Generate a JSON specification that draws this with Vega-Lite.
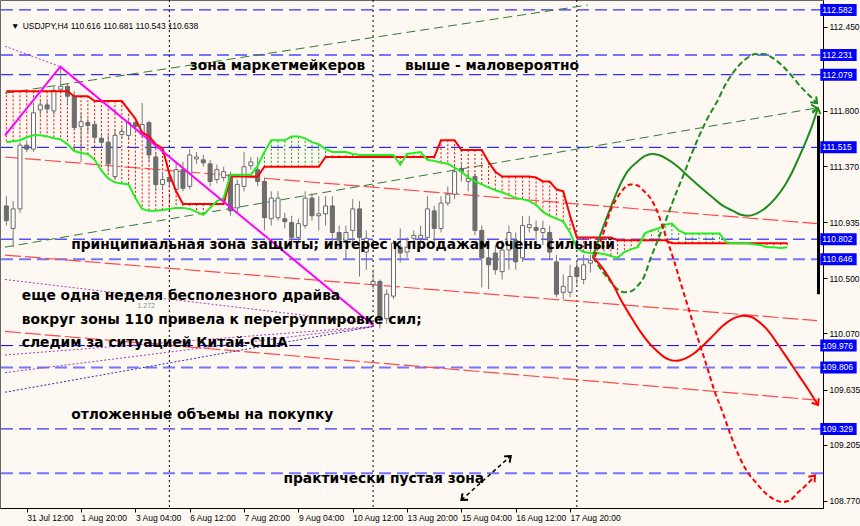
{
  "$schema": "https://vega.github.io/schema/vega-lite/v6.json",
  "width": 823,
  "height": 508,
  "autosize": "none",
  "padding": {"left": 0, "top": 0, "right": 37, "bottom": 18},
  "background": "#fdf8f2",
  "config": {
    "view": {"stroke": "#666", "strokeWidth": 1, "fill": "#fdf8f2"},
    "axis": {"grid": false}
  },
  "datasets": {
    "candles": [
      {"i":-3,"o":111.060,"h":111.136,"l":110.908,"c":110.946},
      {"i":-2,"o":110.885,"h":111.098,"l":110.740,"c":111.037},
      {"i":-1,"o":111.037,"h":111.555,"l":111.007,"c":111.532},
      {"i":0,"o":111.532,"h":111.570,"l":111.479,"c":111.501},
      {"i":1,"o":111.501,"h":111.836,"l":111.479,"c":111.783},
      {"i":2,"o":111.806,"h":111.874,"l":111.768,"c":111.844},
      {"i":3,"o":111.844,"h":111.874,"l":111.783,"c":111.813},
      {"i":4,"o":111.798,"h":111.988,"l":111.768,"c":111.958},
      {"i":5,"o":111.966,"h":112.141,"l":111.935,"c":111.988},
      {"i":6,"o":111.988,"h":112.011,"l":111.859,"c":111.912},
      {"i":7,"o":111.912,"h":111.950,"l":111.646,"c":111.669},
      {"i":8,"o":111.676,"h":111.783,"l":111.402,"c":111.714},
      {"i":9,"o":111.707,"h":111.737,"l":111.631,"c":111.684},
      {"i":10,"o":111.692,"h":111.722,"l":111.555,"c":111.593},
      {"i":11,"o":111.585,"h":111.615,"l":111.517,"c":111.555},
      {"i":12,"o":111.555,"h":111.608,"l":111.326,"c":111.387},
      {"i":13,"o":111.288,"h":111.646,"l":111.265,"c":111.608},
      {"i":14,"o":111.615,"h":111.669,"l":111.585,"c":111.638},
      {"i":15,"o":111.608,"h":111.745,"l":111.585,"c":111.707},
      {"i":16,"o":111.707,"h":111.745,"l":111.646,"c":111.676},
      {"i":17,"o":111.615,"h":111.859,"l":111.593,"c":111.692},
      {"i":18,"o":111.707,"h":111.722,"l":111.402,"c":111.456},
      {"i":19,"o":111.440,"h":111.479,"l":111.174,"c":111.227},
      {"i":20,"o":111.227,"h":111.326,"l":111.189,"c":111.265},
      {"i":21,"o":111.281,"h":111.326,"l":111.212,"c":111.250},
      {"i":22,"o":111.189,"h":111.402,"l":111.159,"c":111.342},
      {"i":23,"o":111.342,"h":111.402,"l":111.174,"c":111.197},
      {"i":24,"o":111.212,"h":111.501,"l":111.189,"c":111.456},
      {"i":25,"o":111.425,"h":111.479,"l":111.387,"c":111.440},
      {"i":26,"o":111.418,"h":111.456,"l":111.364,"c":111.395},
      {"i":27,"o":111.387,"h":111.418,"l":111.212,"c":111.250},
      {"i":28,"o":111.265,"h":111.380,"l":111.235,"c":111.342},
      {"i":29,"o":111.281,"h":111.364,"l":111.250,"c":111.326},
      {"i":30,"o":111.303,"h":111.326,"l":110.984,"c":111.022},
      {"i":31,"o":111.045,"h":111.265,"l":111.007,"c":111.227},
      {"i":32,"o":111.212,"h":111.479,"l":111.174,"c":111.364},
      {"i":33,"o":111.372,"h":111.440,"l":111.342,"c":111.402},
      {"i":34,"o":111.342,"h":111.440,"l":111.212,"c":111.250},
      {"i":35,"o":111.250,"h":111.281,"l":110.870,"c":110.969},
      {"i":36,"o":110.961,"h":111.174,"l":110.908,"c":111.121},
      {"i":37,"o":110.969,"h":111.174,"l":110.946,"c":111.121},
      {"i":38,"o":110.961,"h":111.007,"l":110.885,"c":110.938},
      {"i":39,"o":110.931,"h":110.984,"l":110.756,"c":110.816},
      {"i":40,"o":110.816,"h":110.961,"l":110.778,"c":110.923},
      {"i":41,"o":110.908,"h":111.174,"l":110.885,"c":111.121},
      {"i":42,"o":111.121,"h":111.159,"l":110.946,"c":110.984},
      {"i":43,"o":110.984,"h":111.136,"l":110.870,"c":110.999},
      {"i":44,"o":110.999,"h":111.136,"l":110.908,"c":111.060},
      {"i":45,"o":111.060,"h":111.136,"l":110.756,"c":110.854},
      {"i":46,"o":110.854,"h":110.908,"l":110.718,"c":110.794},
      {"i":47,"o":110.794,"h":110.908,"l":110.641,"c":110.854},
      {"i":48,"o":110.870,"h":111.113,"l":110.756,"c":111.037},
      {"i":49,"o":111.037,"h":111.098,"l":110.512,"c":110.816},
      {"i":50,"o":110.702,"h":110.870,"l":110.565,"c":110.809},
      {"i":51,"o":110.451,"h":110.565,"l":110.413,"c":110.474},
      {"i":52,"o":110.474,"h":110.489,"l":110.109,"c":110.185},
      {"i":53,"o":110.185,"h":110.413,"l":110.147,"c":110.375},
      {"i":54,"o":110.360,"h":110.794,"l":110.337,"c":110.771},
      {"i":55,"o":110.740,"h":110.885,"l":110.619,"c":110.695},
      {"i":56,"o":110.702,"h":110.816,"l":110.657,"c":110.740},
      {"i":57,"o":110.809,"h":110.870,"l":110.756,"c":110.832},
      {"i":58,"o":110.809,"h":110.908,"l":110.733,"c":110.832},
      {"i":59,"o":110.816,"h":111.136,"l":110.794,"c":111.037},
      {"i":60,"o":111.022,"h":111.060,"l":110.756,"c":110.885},
      {"i":61,"o":110.885,"h":111.136,"l":110.854,"c":111.083},
      {"i":62,"o":111.083,"h":111.212,"l":111.060,"c":111.151},
      {"i":63,"o":111.151,"h":111.364,"l":111.113,"c":111.326},
      {"i":64,"o":111.349,"h":111.402,"l":111.250,"c":111.326},
      {"i":65,"o":111.250,"h":111.326,"l":111.174,"c":111.273},
      {"i":66,"o":111.288,"h":111.311,"l":110.832,"c":110.870},
      {"i":67,"o":110.870,"h":110.908,"l":110.428,"c":110.657},
      {"i":68,"o":110.657,"h":110.794,"l":110.413,"c":110.603},
      {"i":69,"o":110.695,"h":110.756,"l":110.527,"c":110.565},
      {"i":70,"o":110.550,"h":110.794,"l":110.489,"c":110.718},
      {"i":71,"o":110.718,"h":110.908,"l":110.565,"c":110.854},
      {"i":72,"o":110.794,"h":110.854,"l":110.565,"c":110.626},
      {"i":73,"o":110.657,"h":110.984,"l":110.626,"c":110.908},
      {"i":74,"o":110.892,"h":110.984,"l":110.854,"c":110.915},
      {"i":75,"o":110.892,"h":110.946,"l":110.794,"c":110.870},
      {"i":76,"o":110.854,"h":110.946,"l":110.756,"c":110.885},
      {"i":77,"o":110.854,"h":110.908,"l":110.641,"c":110.702},
      {"i":78,"o":110.626,"h":110.679,"l":110.352,"c":110.375},
      {"i":79,"o":110.390,"h":110.527,"l":110.337,"c":110.436},
      {"i":80,"o":110.390,"h":110.603,"l":110.352,"c":110.512},
      {"i":81,"o":110.581,"h":110.641,"l":110.451,"c":110.512},
      {"i":82,"o":110.489,"h":110.679,"l":110.451,"c":110.603},
      {"i":83,"o":110.616,"h":110.681,"l":110.543,"c":110.638}
    ],
    "cloud": [
      {"i":-3,"a":111.950,"b":111.555},{"i":-2,"a":111.950,"b":111.562},{"i":-1,"a":111.950,"b":111.570},
      {"i":0,"a":111.950,"b":111.593},{"i":1,"a":111.950,"b":111.608},{"i":2,"a":111.950,"b":111.608},
      {"i":3,"a":111.950,"b":111.600},{"i":4,"a":111.950,"b":111.585},{"i":5,"a":111.950,"b":111.577},
      {"i":6,"a":111.950,"b":111.539},{"i":7,"a":111.912,"b":111.486},{"i":8,"a":111.912,"b":111.471},
      {"i":9,"a":111.912,"b":111.463},{"i":10,"a":111.874,"b":111.418},{"i":11,"a":111.874,"b":111.334},
      {"i":12,"a":111.874,"b":111.273},{"i":13,"a":111.874,"b":111.243},{"i":14,"a":111.874,"b":111.235},
      {"i":15,"a":111.806,"b":111.227},{"i":16,"a":111.737,"b":111.121},{"i":17,"a":111.631,"b":111.037},
      {"i":18,"a":111.600,"b":111.022},{"i":19,"a":111.539,"b":111.022},{"i":20,"a":111.509,"b":111.029},
      {"i":21,"a":111.311,"b":111.037},{"i":22,"a":111.174,"b":111.045},{"i":23,"a":111.075,"b":111.045},
      {"i":24,"a":111.075,"b":111.037},{"i":25,"a":111.075,"b":111.014},{"i":26,"a":111.075,"b":110.991},
      {"i":27,"a":111.075,"b":111.045},{"i":28,"a":111.075,"b":111.098},{"i":29,"a":111.075,"b":111.121},
      {"i":30,"a":111.288,"b":111.303},{"i":31,"a":111.288,"b":111.303},{"i":32,"a":111.288,"b":111.303},
      {"i":33,"a":111.288,"b":111.303},{"i":34,"a":111.288,"b":111.372},{"i":35,"a":111.364,"b":111.479},
      {"i":36,"a":111.364,"b":111.570},{"i":37,"a":111.364,"b":111.570},{"i":38,"a":111.364,"b":111.570},
      {"i":39,"a":111.364,"b":111.600},{"i":40,"a":111.364,"b":111.600},{"i":41,"a":111.364,"b":111.585},
      {"i":42,"a":111.364,"b":111.555},{"i":43,"a":111.364,"b":111.539},{"i":44,"a":111.440,"b":111.501},
      {"i":45,"a":111.440,"b":111.479},{"i":46,"a":111.440,"b":111.479},{"i":47,"a":111.440,"b":111.479},
      {"i":48,"a":111.440,"b":111.463},{"i":49,"a":111.440,"b":111.456},{"i":50,"a":111.440,"b":111.456},
      {"i":51,"a":111.440,"b":111.456},{"i":52,"a":111.440,"b":111.456},{"i":53,"a":111.440,"b":111.456},
      {"i":54,"a":111.440,"b":111.456},{"i":55,"a":111.440,"b":111.380},{"i":56,"a":111.440,"b":111.463},
      {"i":57,"a":111.440,"b":111.471},{"i":58,"a":111.440,"b":111.479},{"i":59,"a":111.440,"b":111.418},
      {"i":60,"a":111.440,"b":111.410},{"i":61,"a":111.570,"b":111.395},{"i":62,"a":111.570,"b":111.387},
      {"i":63,"a":111.570,"b":111.357},{"i":64,"a":111.494,"b":111.326},{"i":65,"a":111.494,"b":111.281},
      {"i":66,"a":111.494,"b":111.250},{"i":67,"a":111.494,"b":111.227},{"i":68,"a":111.402,"b":111.204},
      {"i":69,"a":111.326,"b":111.182},{"i":70,"a":111.288,"b":111.166},{"i":71,"a":111.288,"b":111.144},
      {"i":72,"a":111.288,"b":111.121},{"i":73,"a":111.288,"b":111.113},{"i":74,"a":111.288,"b":111.098},
      {"i":75,"a":111.281,"b":111.068},{"i":76,"a":111.250,"b":111.014},{"i":77,"a":111.250,"b":110.984},
      {"i":78,"a":111.189,"b":110.961},{"i":79,"a":111.174,"b":110.938},{"i":80,"a":110.984,"b":110.854},
      {"i":81,"a":110.816,"b":110.733},{"i":82,"a":110.816,"b":110.702},{"i":83,"a":110.816,"b":110.695},
      {"i":84,"a":110.816,"b":110.695},{"i":85,"a":110.816,"b":110.687},{"i":86,"a":110.816,"b":110.672},
      {"i":87,"a":110.794,"b":110.657},{"i":88,"a":110.794,"b":110.702},{"i":89,"a":110.794,"b":110.725},
      {"i":90,"a":110.794,"b":110.740},{"i":91,"a":110.794,"b":110.847},{"i":92,"a":110.794,"b":110.870},
      {"i":93,"a":110.794,"b":110.885},{"i":94,"a":110.794,"b":110.915},{"i":95,"a":110.771,"b":110.923},
      {"i":96,"a":110.771,"b":110.870},{"i":97,"a":110.771,"b":110.847},{"i":98,"a":110.771,"b":110.847},
      {"i":99,"a":110.771,"b":110.847},{"i":100,"a":110.771,"b":110.847},{"i":101,"a":110.771,"b":110.847},
      {"i":102,"a":110.771,"b":110.847},{"i":103,"a":110.771,"b":110.778},{"i":104,"a":110.771,"b":110.771},
      {"i":105,"a":110.771,"b":110.771},{"i":106,"a":110.771,"b":110.771},{"i":107,"a":110.771,"b":110.763},
      {"i":108,"a":110.771,"b":110.756},{"i":109,"a":110.771,"b":110.740},{"i":110,"a":110.771,"b":110.740},
      {"i":111,"a":110.771,"b":110.733},{"i":112,"a":110.771,"b":110.740}
    ],
    "levelsMain": [{"p":112.582},{"p":112.079},{"p":111.515},{"p":110.802},{"p":109.976},{"p":109.329}],
    "levelsSoft": [{"p":112.231},{"p":110.646},{"p":109.806},{"p":108.985}],
    "priceTags": [{"p":112.582},{"p":112.231},{"p":112.079},{"p":111.515},{"p":110.802},{"p":110.646},{"p":109.976},{"p":109.806},{"p":109.329}],
    "seps": [{"i":21},{"i":51},{"i":81}],
    "lines": [
      {"id":"R1","i":-3.2,"p":111.440},{"id":"R1","i":116.36,"p":110.923},
      {"id":"R2","i":-3.2,"p":110.679},{"id":"R2","i":116.36,"p":110.170},
      {"id":"R3","i":-3.2,"p":110.086},{"id":"R3","i":116.36,"p":109.553},
      {"id":"G1","i":-3.2,"p":111.935},{"id":"G1","i":82.62,"p":112.620},
      {"id":"G2","i":-3.2,"p":110.740},{"id":"G2","i":116.36,"p":111.821},
      {"id":"M","i":-3.2,"p":111.608},{"id":"M","i":4.95,"p":112.141},{"id":"M","i":51.05,"p":110.132},
      {"id":"MD","i":-3.2,"p":112.300},{"id":"MD","i":4.95,"p":112.141},
      {"id":"P1","i":-3.2,"p":110.489},{"id":"P1","i":51.05,"p":110.147},
      {"id":"P2","i":-3.2,"p":109.903},{"id":"P2","i":51.05,"p":110.124},
      {"id":"P3","i":-3.2,"p":109.766},{"id":"P3","i":51.05,"p":110.124},
      {"id":"P4","i":-3.2,"p":109.614},{"id":"P4","i":51.05,"p":110.124},
      {"id":"BK","i":64.0,"p":108.777},{"id":"BK","i":71.27,"p":109.119}
    ],
    "fc": [
      {"id":"gsol","i":83.35,"p":110.664},{"id":"gsol","i":84.80,"p":110.885},{"id":"gsol","i":85.96,"p":111.045},
      {"id":"gsol","i":87.27,"p":111.212},{"id":"gsol","i":88.44,"p":111.326},{"id":"gsol","i":89.89,"p":111.402},
      {"id":"gsol","i":91.05,"p":111.448},{"id":"gsol","i":92.07,"p":111.463},{"id":"gsol","i":93.09,"p":111.456},
      {"id":"gsol","i":94.25,"p":111.425},{"id":"gsol","i":95.71,"p":111.372},{"id":"gsol","i":97.16,"p":111.303},
      {"id":"gsol","i":99.05,"p":111.212},{"id":"gsol","i":101.09,"p":111.121},{"id":"gsol","i":102.55,"p":111.060},
      {"id":"gsol","i":104.0,"p":111.022},{"id":"gsol","i":105.16,"p":110.991},{"id":"gsol","i":106.18,"p":110.984},
      {"id":"gsol","i":107.35,"p":110.999},{"id":"gsol","i":108.80,"p":111.045},{"id":"gsol","i":110.25,"p":111.121},
      {"id":"gsol","i":111.71,"p":111.227},{"id":"gsol","i":112.73,"p":111.326},{"id":"gsol","i":113.6,"p":111.425},
      {"id":"gsol","i":114.62,"p":111.547},{"id":"gsol","i":115.64,"p":111.684},{"id":"gsol","i":116.51,"p":111.821},
      {"id":"gdash","i":83.35,"p":110.664},{"id":"gdash","i":84.80,"p":110.550},{"id":"gdash","i":85.96,"p":110.474},
      {"id":"gdash","i":86.98,"p":110.413},{"id":"gdash","i":88.0,"p":110.390},{"id":"gdash","i":89.02,"p":110.398},
      {"id":"gdash","i":89.89,"p":110.436},{"id":"gdash","i":90.91,"p":110.512},{"id":"gdash","i":91.78,"p":110.641},
      {"id":"gdash","i":92.8,"p":110.778},{"id":"gdash","i":94.25,"p":110.969},{"id":"gdash","i":95.71,"p":111.174},
      {"id":"gdash","i":96.73,"p":111.303},{"id":"gdash","i":97.89,"p":111.463},{"id":"gdash","i":99.05,"p":111.608},
      {"id":"gdash","i":100.36,"p":111.752},{"id":"gdash","i":101.53,"p":111.859},{"id":"gdash","i":102.98,"p":112.011},
      {"id":"gdash","i":104.44,"p":112.125},{"id":"gdash","i":105.89,"p":112.201},{"id":"gdash","i":107.35,"p":112.240},
      {"id":"gdash","i":108.51,"p":112.240},{"id":"gdash","i":109.82,"p":112.209},{"id":"gdash","i":111.27,"p":112.148},
      {"id":"gdash","i":112.73,"p":112.064},{"id":"gdash","i":114.18,"p":111.973},{"id":"gdash","i":115.35,"p":111.912},
      {"id":"gdash","i":116.36,"p":111.859},
      {"id":"rsol","i":83.35,"p":110.664},{"id":"rsol","i":84.51,"p":110.596},{"id":"rsol","i":85.53,"p":110.520},
      {"id":"rsol","i":86.55,"p":110.428},{"id":"rsol","i":87.42,"p":110.337},{"id":"rsol","i":88.87,"p":110.208},
      {"id":"rsol","i":90.33,"p":110.086},{"id":"rsol","i":91.64,"p":109.995},{"id":"rsol","i":92.8,"p":109.934},
      {"id":"rsol","i":93.82,"p":109.888},{"id":"rsol","i":94.69,"p":109.865},{"id":"rsol","i":95.71,"p":109.858},
      {"id":"rsol","i":97.16,"p":109.880},{"id":"rsol","i":98.33,"p":109.918},{"id":"rsol","i":99.64,"p":109.979},
      {"id":"rsol","i":101.09,"p":110.055},{"id":"rsol","i":102.55,"p":110.132},{"id":"rsol","i":104.0,"p":110.185},
      {"id":"rsol","i":105.45,"p":110.208},{"id":"rsol","i":106.62,"p":110.200},{"id":"rsol","i":107.78,"p":110.162},
      {"id":"rsol","i":109.24,"p":110.086},{"id":"rsol","i":110.69,"p":109.979},{"id":"rsol","i":112.15,"p":109.865},
      {"id":"rsol","i":113.6,"p":109.751},{"id":"rsol","i":115.05,"p":109.637},{"id":"rsol","i":116.51,"p":109.515},
      {"id":"rdash","i":83.64,"p":110.664},{"id":"rdash","i":84.80,"p":110.832},{"id":"rdash","i":85.96,"p":111.022},
      {"id":"rdash","i":87.27,"p":111.151},{"id":"rdash","i":88.87,"p":111.227},{"id":"rdash","i":89.89,"p":111.220},
      {"id":"rdash","i":90.91,"p":111.174},{"id":"rdash","i":91.93,"p":111.113},{"id":"rdash","i":92.8,"p":111.022},
      {"id":"rdash","i":93.96,"p":110.847},{"id":"rdash","i":95.27,"p":110.641},{"id":"rdash","i":96.44,"p":110.436},
      {"id":"rdash","i":97.6,"p":110.238},{"id":"rdash","i":98.91,"p":110.017},{"id":"rdash","i":100.07,"p":109.827},
      {"id":"rdash","i":101.24,"p":109.629},{"id":"rdash","i":102.55,"p":109.447},{"id":"rdash","i":103.71,"p":109.272},
      {"id":"rdash","i":104.87,"p":109.119},{"id":"rdash","i":106.18,"p":108.990},{"id":"rdash","i":107.35,"p":108.914},
      {"id":"rdash","i":108.8,"p":108.830},{"id":"rdash","i":110.25,"p":108.777},{"id":"rdash","i":111.27,"p":108.762},
      {"id":"rdash","i":112.44,"p":108.777},{"id":"rdash","i":113.6,"p":108.838},{"id":"rdash","i":114.91,"p":108.899},
      {"id":"rdash","i":116.07,"p":108.967}
    ],
    "heads": [
      {"g":"green","i":116.51,"p":111.821,"a":18},
      {"g":"green","i":116.36,"p":111.859,"a":135},
      {"g":"green","i":116.36,"p":111.821,"a":80},
      {"g":"red","i":116.51,"p":109.515,"a":148},
      {"g":"red","i":116.07,"p":108.967,"a":42},
      {"g":"black","i":71.27,"p":109.119,"a":48},
      {"g":"black","i":64.0,"p":108.777,"a":228}
    ],
    "notes": [
      {"t":"зона маркетмейкеров","i":24.0,"p":112.148},
      {"t":"выше - маловероятно","i":55.7,"p":112.148},
      {"t":"принципиальная зона защиты; интерес к продажам очень сильный","i":6.55,"p":110.756},
      {"t":"еще одна неделя бесполезного драйва","i":-0.73,"p":110.360},
      {"t":"вокруг зоны 110 привела к перегруппировке сил;","i":-0.73,"p":110.177},
      {"t":"следим за ситуацией Китай-США","i":-0.73,"p":109.995},
      {"t":"отложенные объемы на покупку","i":6.55,"p":109.439},
      {"t":"практически пустая зона","i":37.8,"p":108.937}
    ]
  },
  "layer": [
    {
      "data": {"name": "candles"},
      "mark": {"type": "rule", "color": "#7a7a7a", "strokeWidth": 1, "opacity": 0},
      "encoding": {
        "x": {
          "field": "i", "type": "quantitative", "title": null,
          "scale": {"domain": [-3.2, 116.51], "nice": false, "zero": false},
          "axis": {
            "orient": "bottom", "title": null, "grid": false,
            "values": [-8, 0, 8, 16, 24, 32, 40, 48, 56, 64, 72, 80],
            "labelExpr": "['30 Jul 04:00','31 Jul 12:00','1 Aug 20:00','3 Aug 04:00','6 Aug 12:00','7 Aug 20:00','9 Aug 04:00','10 Aug 12:00','13 Aug 20:00','15 Aug 04:00','16 Aug 12:00','17 Aug 20:00'][round((datum.value + 8) / 8)]",
            "labelAlign": "left", "labelFlush": false, "labelOverlap": false, "labelBound": false,
            "labelFont": "Liberation Sans", "labelFontSize": 8.5, "labelColor": "#000000", "labelPadding": 1,
            "domainColor": "#000000", "tickColor": "#000000", "tickSize": 4
          }
        },
        "y": {
          "field": "l", "type": "quantitative", "title": null,
          "scale": {"domain": [108.754, 112.62], "nice": false, "zero": false},
          "axis": {
            "orient": "right", "title": null, "grid": false,
            "values": [112.45, 112.015, 111.8, 111.585, 111.37, 111.15, 110.935, 110.72, 110.5, 110.285, 110.07, 109.855, 109.635, 109.42, 109.205, 108.985, 108.77],
            "format": ".3f", "labelOverlap": false, "labelFlush": false, "labelBound": false,
            "labelFont": "Liberation Sans", "labelFontSize": 8.5, "labelColor": "#000000", "labelPadding": 2,
            "domainColor": "#000000", "tickColor": "#000000", "tickSize": 4
          }
        },
        "y2": {"field": "h"}
      }
    },
    {
      "data": {"name": "levelsSoft"},
      "mark": {"type": "rule", "color": "#7474ff", "strokeWidth": 2, "strokeDash": [12, 6]},
      "encoding": {"y": {"field": "p", "type": "quantitative", "title": null}}
    },
    {
      "data": {"name": "levelsMain"},
      "mark": {"type": "rule", "color": "#0000ff", "strokeWidth": 1, "strokeDash": [12, 6]},
      "encoding": {"y": {"field": "p", "type": "quantitative", "title": null}}
    },
    {
      "data": {"name": "seps"},
      "mark": {"type": "rule", "color": "#000000", "strokeWidth": 1, "strokeDash": [2, 3]},
      "encoding": {"x": {"field": "i", "type": "quantitative", "title": null}}
    },
    {
      "data": {"name": "lines"},
      "transform": [{"filter": {"field": "id", "oneOf": ["R1", "R2", "R3"]}}],
      "mark": {"type": "line", "color": "#ff4a4a", "strokeWidth": 1.2, "strokeDash": [16, 4]},
      "encoding": {
        "x": {"field": "i", "type": "quantitative", "title": null},
        "y": {"field": "p", "type": "quantitative", "title": null},
        "detail": {"field": "id"}
      }
    },
    {
      "data": {"name": "lines"},
      "transform": [{"filter": {"field": "id", "oneOf": ["G1", "G2"]}}],
      "mark": {"type": "line", "color": "#2e7d32", "strokeWidth": 1, "strokeDash": [9, 5]},
      "encoding": {
        "x": {"field": "i", "type": "quantitative", "title": null},
        "y": {"field": "p", "type": "quantitative", "title": null},
        "detail": {"field": "id"}
      }
    },
    {
      "data": {"name": "cloud"},
      "mark": {"type": "rule", "strokeWidth": 1, "strokeDash": [2, 2]},
      "encoding": {
        "x": {"field": "i", "type": "quantitative", "title": null},
        "y": {"field": "a", "type": "quantitative", "title": null},
        "y2": {"field": "b"},
        "color": {"condition": {"test": "datum.a >= datum.b", "value": "#ff0000"}, "value": "#1a9a1a"}
      }
    },
    {
      "data": {"name": "candles"},
      "mark": {"type": "rule", "color": "#7a7a7a", "strokeWidth": 1},
      "encoding": {
        "x": {"field": "i", "type": "quantitative", "title": null},
        "y": {"field": "l", "type": "quantitative", "title": null},
        "y2": {"field": "h"}
      }
    },
    {
      "data": {"name": "candles"},
      "mark": {"type": "bar", "width": 4, "stroke": "#6a6a6a", "strokeWidth": 1},
      "encoding": {
        "x": {"field": "i", "type": "quantitative", "title": null},
        "y": {"field": "o", "type": "quantitative", "title": null},
        "y2": {"field": "c"},
        "fill": {"condition": {"test": "datum.c >= datum.o", "value": "#ffffff"}, "value": "#6e6e6e"}
      }
    },
    {
      "data": {"name": "cloud"},
      "mark": {"type": "line", "color": "#ff0000", "strokeWidth": 2},
      "encoding": {
        "x": {"field": "i", "type": "quantitative", "title": null},
        "y": {"field": "a", "type": "quantitative", "title": null}
      }
    },
    {
      "data": {"name": "cloud"},
      "mark": {"type": "line", "color": "#22ee22", "strokeWidth": 2},
      "encoding": {
        "x": {"field": "i", "type": "quantitative", "title": null},
        "y": {"field": "b", "type": "quantitative", "title": null}
      }
    },
    {
      "data": {"name": "lines"},
      "transform": [{"filter": {"field": "id", "oneOf": ["MD", "P1", "P2", "P3"]}}],
      "mark": {"type": "line", "color": "#a040b8", "strokeWidth": 1, "strokeDash": [2, 2]},
      "encoding": {
        "x": {"field": "i", "type": "quantitative", "title": null},
        "y": {"field": "p", "type": "quantitative", "title": null},
        "detail": {"field": "id"}
      }
    },
    {
      "data": {"name": "lines"},
      "transform": [{"filter": {"field": "id", "equal": "P4"}}],
      "mark": {"type": "line", "color": "#3030a0", "strokeWidth": 1, "strokeDash": [2, 2]},
      "encoding": {
        "x": {"field": "i", "type": "quantitative", "title": null},
        "y": {"field": "p", "type": "quantitative", "title": null}
      }
    },
    {
      "data": {"name": "lines"},
      "transform": [{"filter": {"field": "id", "equal": "M"}}],
      "mark": {"type": "line", "color": "#ff00ff", "strokeWidth": 2},
      "encoding": {
        "x": {"field": "i", "type": "quantitative", "title": null},
        "y": {"field": "p", "type": "quantitative", "title": null}
      }
    },
    {
      "data": {"name": "lines"},
      "transform": [{"filter": {"field": "id", "equal": "BK"}}],
      "mark": {"type": "line", "color": "#000000", "strokeWidth": 1.5, "strokeDash": [4, 3]},
      "encoding": {
        "x": {"field": "i", "type": "quantitative", "title": null},
        "y": {"field": "p", "type": "quantitative", "title": null}
      }
    },
    {
      "data": {"name": "fc"},
      "transform": [{"filter": {"field": "id", "equal": "gsol"}}],
      "mark": {"type": "line", "color": "#1f8a1f", "strokeWidth": 2, "interpolate": "monotone"},
      "encoding": {
        "x": {"field": "i", "type": "quantitative", "title": null},
        "y": {"field": "p", "type": "quantitative", "title": null}
      }
    },
    {
      "data": {"name": "fc"},
      "transform": [{"filter": {"field": "id", "equal": "gdash"}}],
      "mark": {"type": "line", "color": "#1f8a1f", "strokeWidth": 2, "strokeDash": [6, 3], "interpolate": "monotone"},
      "encoding": {
        "x": {"field": "i", "type": "quantitative", "title": null},
        "y": {"field": "p", "type": "quantitative", "title": null}
      }
    },
    {
      "data": {"name": "fc"},
      "transform": [{"filter": {"field": "id", "equal": "rsol"}}],
      "mark": {"type": "line", "color": "#ff0000", "strokeWidth": 2, "interpolate": "monotone"},
      "encoding": {
        "x": {"field": "i", "type": "quantitative", "title": null},
        "y": {"field": "p", "type": "quantitative", "title": null}
      }
    },
    {
      "data": {"name": "fc"},
      "transform": [{"filter": {"field": "id", "equal": "rdash"}}],
      "mark": {"type": "line", "color": "#ff0000", "strokeWidth": 2, "strokeDash": [5, 3], "interpolate": "monotone"},
      "encoding": {
        "x": {"field": "i", "type": "quantitative", "title": null},
        "y": {"field": "p", "type": "quantitative", "title": null}
      }
    },
    {
      "data": {"name": "heads"},
      "mark": {"type": "point", "shape": "M-0.8,1L0,0L0.8,1", "filled": false, "size": 110, "strokeWidth": 2, "opacity": 1},
      "encoding": {
        "x": {"field": "i", "type": "quantitative", "title": null},
        "y": {"field": "p", "type": "quantitative", "title": null},
        "angle": {"field": "a", "type": "quantitative", "scale": null},
        "color": {"field": "g", "type": "nominal", "scale": {"domain": ["green", "red", "black"], "range": ["#1f8a1f", "#ff0000", "#000000"]}, "legend": null}
      }
    },
    {
      "data": {"name": "notes"},
      "mark": {"type": "text", "align": "left", "baseline": "middle", "font": "DejaVu Sans", "fontWeight": "bold", "fontSize": 13.8, "color": "#000000"},
      "encoding": {
        "x": {"field": "i", "type": "quantitative", "title": null},
        "y": {"field": "p", "type": "quantitative", "title": null},
        "text": {"field": "t"}
      }
    },
    {
      "data": {"values": [{"t": "▼", "i": -2.3, "p": 112.46}, {"t": "USDJPY,H4  110.616 110.681 110.543 110.638", "i": -0.6, "p": 112.46}]},
      "mark": {"type": "text", "align": "left", "baseline": "middle", "font": "Liberation Sans", "fontSize": 8.5, "color": "#000000"},
      "encoding": {
        "x": {"field": "i", "type": "quantitative", "title": null},
        "y": {"field": "p", "type": "quantitative", "title": null},
        "text": {"field": "t"}
      }
    },
    {
      "data": {"values": [{"t": "1.272", "i": 16.3, "p": 110.285}]},
      "mark": {"type": "text", "align": "left", "baseline": "middle", "font": "Liberation Sans", "fontSize": 7, "color": "#6a9a8a"},
      "encoding": {
        "x": {"field": "i", "type": "quantitative", "title": null},
        "y": {"field": "p", "type": "quantitative", "title": null},
        "text": {"field": "t"}
      }
    },
    {
      "data": {"name": "priceTags"},
      "mark": {"type": "bar", "orient": "horizontal", "height": 12, "color": "#0000ff"},
      "encoding": {
        "x": {"datum": 116.85, "type": "quantitative", "title": null},
        "x2": {"datum": 122.2},
        "y": {"field": "p", "type": "quantitative", "title": null}
      }
    },
    {
      "data": {"name": "priceTags"},
      "mark": {"type": "text", "align": "left", "baseline": "middle", "font": "Liberation Sans", "fontSize": 8.5, "color": "#ffffff"},
      "encoding": {
        "x": {"datum": 117.15, "type": "quantitative", "title": null},
        "y": {"field": "p", "type": "quantitative", "title": null},
        "text": {"field": "p", "type": "quantitative", "format": ".3f"}
      }
    },
    {
      "data": {"values": [{"i": 116.58, "top": 111.76, "bot": 110.375}]},
      "mark": {"type": "rule", "color": "#000000", "strokeWidth": 3},
      "encoding": {
        "x": {"field": "i", "type": "quantitative", "title": null},
        "y": {"field": "top", "type": "quantitative", "title": null},
        "y2": {"field": "bot"}
      }
    }
  ]
}
